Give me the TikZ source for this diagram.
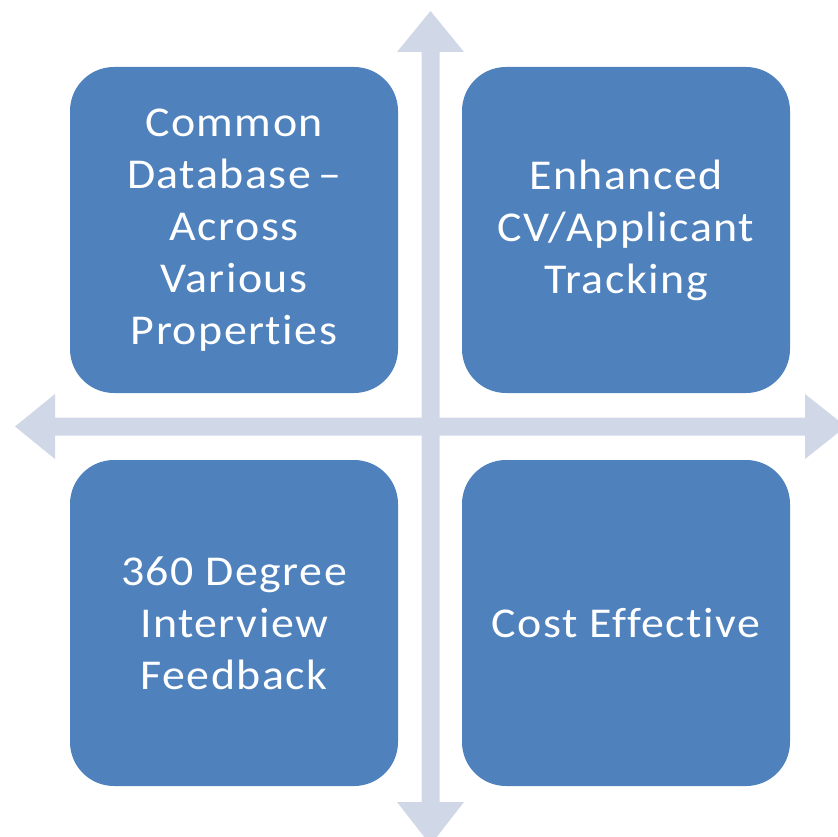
\documentclass[tikz,border=0pt]{standalone}
\usepackage{fontspec}
\setmainfont[FakeStretch=1.08,LetterSpace=3.5,Ligatures=NoCommon]{Carlito}
\definecolor{boxblue}{HTML}{4F81BD}
\definecolor{arrowgray}{HTML}{D0D8E8}
\begin{document}
\begin{tikzpicture}[x=1pt,y=-1pt,
  quad/.style={fill=boxblue, rounded corners=44pt, minimum width=328pt, minimum height=326pt,
    inner sep=0pt, text=white, align=center, font=\fontsize{42.5}{52}\selectfont},
  axis/.style={fill=arrowgray}]
\useasboundingbox (0,0) rectangle (838,837);
\clip (0,0) rectangle (838,837);
% axes
\fill[axis] (430.5,11) -- (464,52) -- (439.5,52) -- (439.5,802) -- (464,802) -- (430.5,845)
  -- (397,802) -- (421.5,802) -- (421.5,52) -- (397,52) -- cycle;
\fill[axis] (15,426.5) -- (55,394) -- (55,417.5) -- (805,417.5) -- (805,394) -- (846,426.5)
  -- (805,459) -- (805,435.5) -- (55,435.5) -- (55,459) -- cycle;
% quadrants
\node[quad] (tl) at (234,230) {Common\\Database\,–\\Across\\Various\\Properties};
\node[quad] (tr) at (626,230) {Enhanced\\CV/Applicant\\Tracking};
\node[quad] (bl) at (234,623) {360 Degree\\Interview\\Feedback};
\node[quad] (br) at (626,623) {Cost Effective};
\end{tikzpicture}
\end{document}
